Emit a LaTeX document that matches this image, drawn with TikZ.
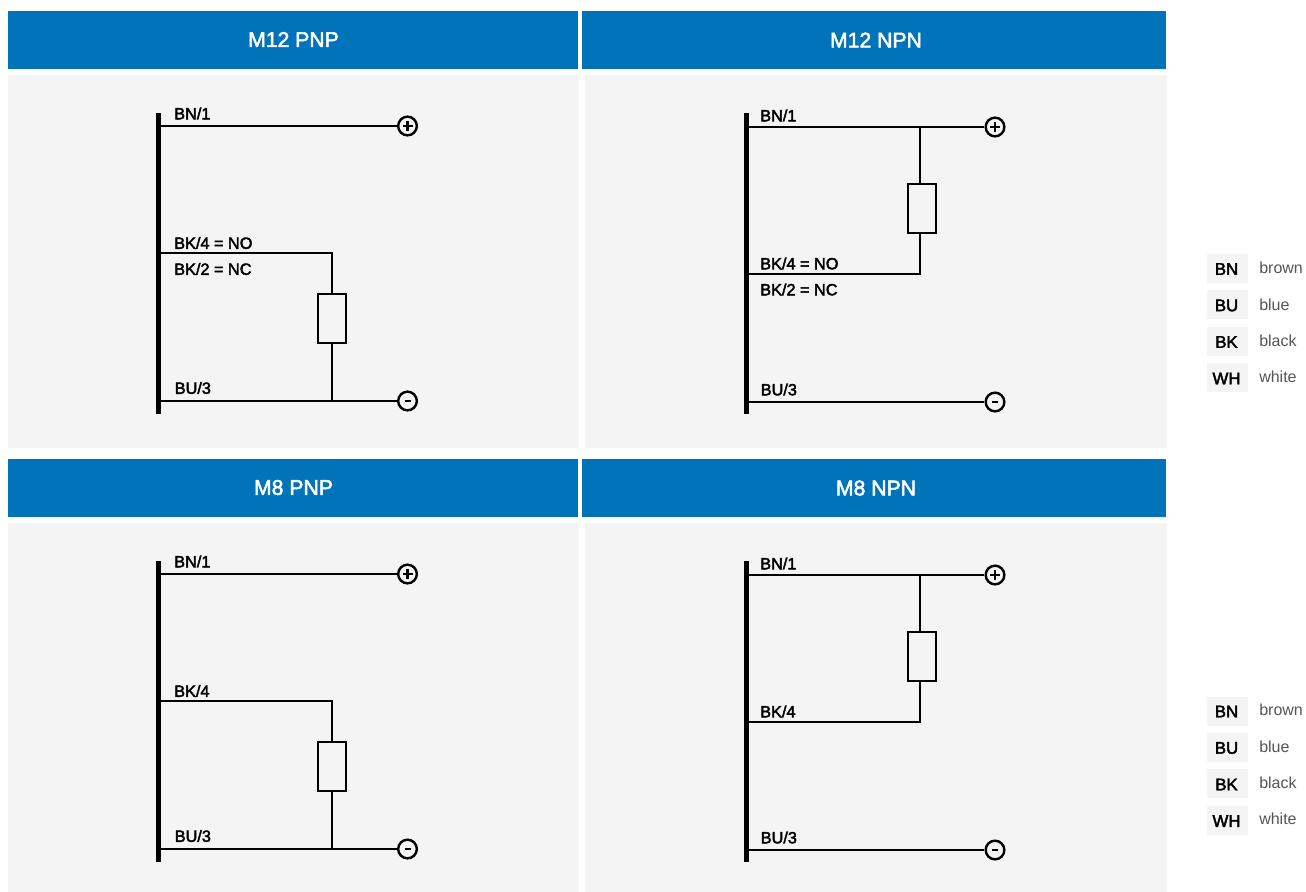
\documentclass[tikz,border=0pt]{standalone}
\usepackage{fontspec}
\setmainfont{Liberation Sans}
\newfontfamily\medfont[FakeBold=2.5]{Liberation Sans}
\definecolor{headblue}{HTML}{0173BA}
\definecolor{panelgrey}{HTML}{F4F4F4}
\definecolor{legtext}{HTML}{555555}
\tikzset{
  x=0.75pt,y=-0.75pt,
  header/.style={fill=headblue,draw=none,minimum height=43.5pt,inner sep=0pt},
  htext/.style={text=white,inner sep=0pt,font=\medfont\fontsize{15.9}{18}\selectfont},
  panel/.style={fill=panelgrey,draw=none},
  bus/.style={line width=3.9pt,line cap=butt},
  wire/.style={line width=1.5pt,line cap=butt,line join=miter},
  load/.style={draw,line width=1.5pt,fill=panelgrey,minimum width=20.6pt,minimum height=36.75pt,inner sep=0pt},
  term/.style={draw,circle,line width=1.8pt,fill=none,minimum size=14pt,inner sep=0pt},
  wlabel/.style={anchor=west,inner sep=0pt,font=\medfont\fontsize{12.2}{14}\selectfont,text=black},
  legbox/.style={fill=panelgrey,draw=none,minimum width=30.75pt,minimum height=21.75pt,inner sep=0pt},
  legabbr/.style={inner sep=0pt,font=\medfont\fontsize{12.6}{14}\selectfont,text=black},
  legname/.style={anchor=west,inner sep=0pt,font=\fontsize{12}{14}\selectfont,text=legtext},
  sign/.style={line width=1.7pt,line cap=butt},
}
\newcommand{\pnppanel}[4]{%
  \begin{scope}[shift={(0,#2)}]
    \node[wlabel] (#1a) at (174,113.5) {BN/1};
    \node[wlabel] (#1b) at (174,243) {#3};
    #4
    \node[wlabel] (#1d) at (174.5,388) {BU/3};
    \coordinate (#1bt) at (158.5,113);
    \coordinate (#1bb) at (158.5,414);
    \draw[bus] (#1bt) -- (#1bb);
    \coordinate (#1p) at (160,126);
    \coordinate (#1k) at (160,253);
    \coordinate (#1u) at (160,401);
    \coordinate (#1c) at (332,253);
    \coordinate (#1j) at (332,401);
    \node[term] (#1plus) at (407.5,126) {};
    \draw[sign] (#1plus.center) ++(-5,0) -- ++(10,0) (#1plus.center) ++(0,-5) -- ++(0,10);
    \node[term] (#1minus) at (407.5,401) {};
    \draw[sign] (#1minus.center) ++(-3,0) -- ++(6,0);
    \node[load] (#1r) at (332,318.5) {};
    \draw[wire] (#1p) -- (#1plus);
    \draw[wire] (#1k) -- (#1c) -- (#1r.north);
    \draw[wire] (#1r.south) -- (#1j);
    \draw[wire] (#1u) -- (#1minus);
  \end{scope}}
\newcommand{\npnpanel}[4]{%
  \begin{scope}[shift={(0,#2)}]
    \node[wlabel] (#1a) at (760,115.5) {BN/1};
    \node[wlabel] (#1b) at (760,263.5) {#3};
    #4
    \node[wlabel] (#1d) at (760.5,389.5) {BU/3};
    \coordinate (#1bt) at (746.5,113);
    \coordinate (#1bb) at (746.5,414);
    \draw[bus] (#1bt) -- (#1bb);
    \coordinate (#1p) at (748,127);
    \coordinate (#1k) at (748,274);
    \coordinate (#1u) at (748,402);
    \coordinate (#1c) at (920,274);
    \coordinate (#1j) at (920,127);
    \node[term] (#1plus) at (995,127) {};
    \draw[sign] (#1plus.center) ++(-5,0) -- ++(10,0) (#1plus.center) ++(0,-5) -- ++(0,10);
    \node[term] (#1minus) at (995,402) {};
    \draw[sign] (#1minus.center) ++(-3,0) -- ++(6,0);
    \node[load] (#1r) at (922,208.5) {};
    \draw[wire] (#1p) -- (#1plus);
    \draw[wire] (#1j) -- (#1j |- #1r.north);
    \draw[wire] (#1k) -- (#1c) -- (#1c |- #1r.south);
    \draw[wire] (#1u) -- (#1minus);
  \end{scope}}
\newcommand{\legend}[2]{%
  \begin{scope}[shift={(0,#2)}]
    \node[legbox] (#1nb) at (1227.5,268.5) {};
    \node[legbox] (#1ub) at (1227.5,304.5) {};
    \node[legbox] (#1kb) at (1227.5,341) {};
    \node[legbox] (#1wb) at (1227.5,377.5) {};
    \node[legabbr] (#1n) at (1226.5,269) {BN};
    \node[legabbr] (#1u) at (1226.5,305.5) {BU};
    \node[legabbr] (#1k) at (1226.5,342) {BK};
    \node[legabbr] (#1w) at (1226.5,378.5) {WH};
    \node[legname] (#1nt) at (1259,267.5) {brown};
    \node[legname] (#1ut) at (1259,304.5) {blue};
    \node[legname] (#1kt) at (1259,340.5) {black};
    \node[legname] (#1wt) at (1259,376.5) {white};
  \end{scope}}
\begin{document}
\begin{tikzpicture}
\useasboundingbox (0,0) rectangle (1306,892);
\fill[white] (0,0) rectangle (1306,892);
\fill[panel] (8,75) rectangle (579,448);
\fill[panel] (585,75) rectangle (1167,448);
\fill[panel] (8,523) rectangle (579,892);
\fill[panel] (585,523) rectangle (1167,892);
\node[header,minimum width=427.5pt] (h0) at (293,40) {};
\node[header,minimum width=438pt] (h1) at (874,40) {};
\node[header,minimum width=427.5pt] (h2) at (293,488) {};
\node[header,minimum width=438pt] (h3) at (874,488) {};
\node[htext] (t0) at (293.5,39.5) {M12 PNP};
\node[htext] (t1) at (876,40) {M12 NPN};
\node[htext] (t2) at (293.5,487.5) {M8 PNP};
\node[htext] (t3) at (876,488) {M8 NPN};
\pnppanel{A}{0}{BK/4 = NO}{\node[wlabel] (Ae) at (174,269) {BK/2 = NC};}
\npnpanel{B}{0}{BK/4 = NO}{\node[wlabel] (Be) at (760,289.5) {BK/2 = NC};}
\pnppanel{C}{448}{BK/4}{}
\npnpanel{D}{448}{BK/4}{}
\legend{L}{0}
\legend{M}{442.5}
\end{tikzpicture}
\end{document}
